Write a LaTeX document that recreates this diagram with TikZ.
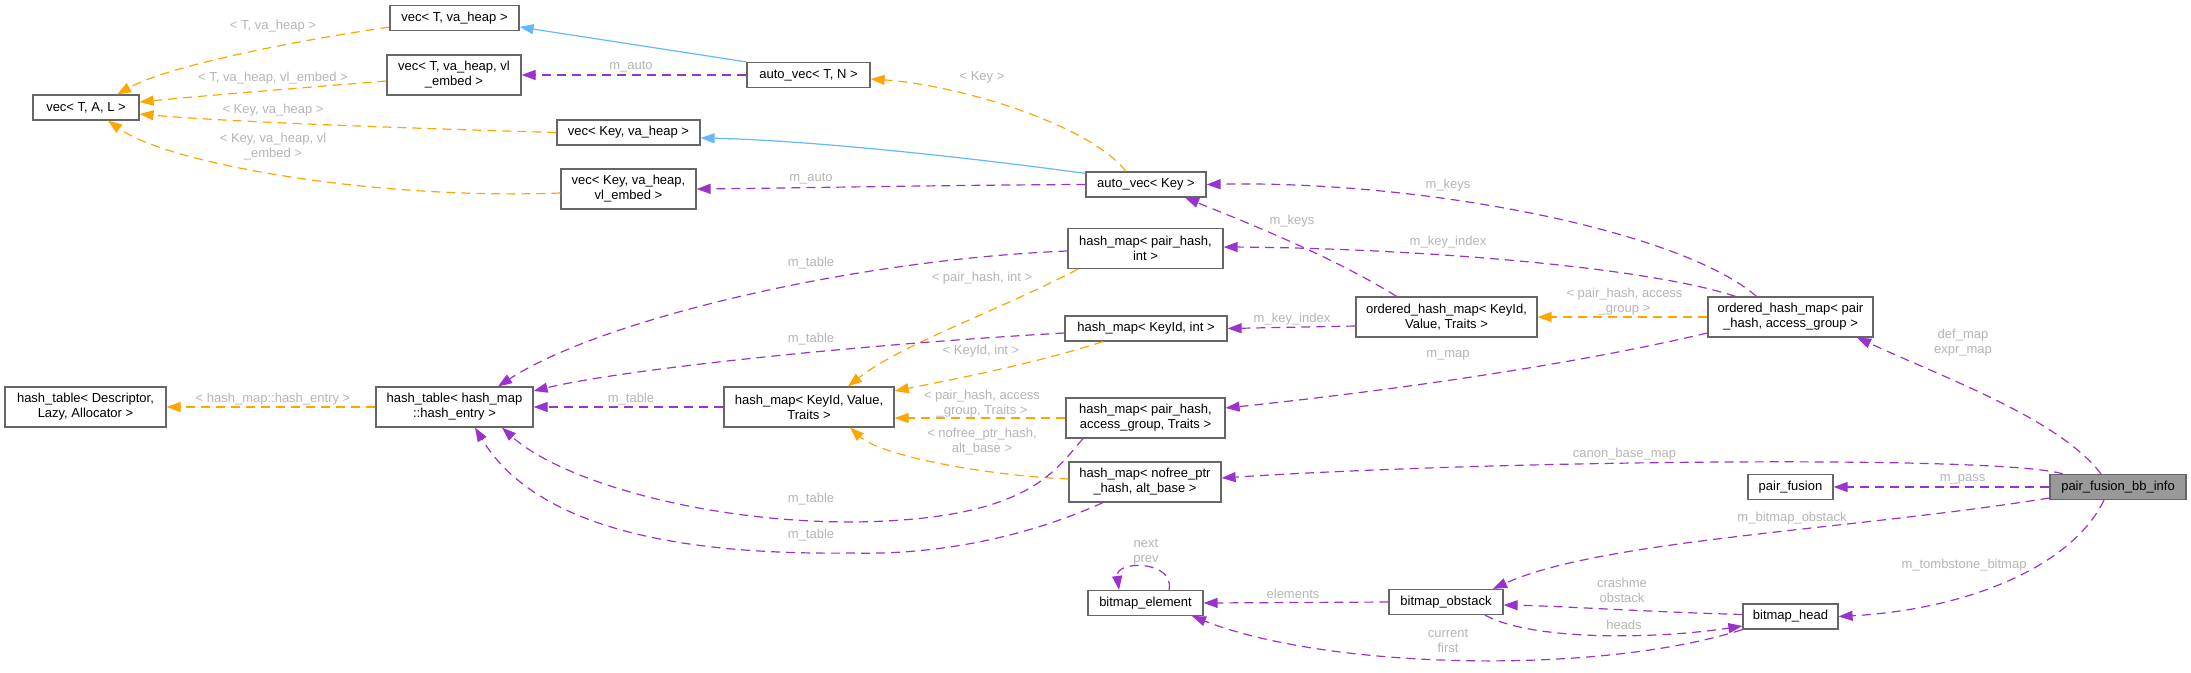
\documentclass[tikz,border=0pt]{standalone}
\usepackage{fontspec}
\setmainfont{Liberation Sans}
\usepackage{tikz}
\usetikzlibrary{arrows.meta}
\definecolor{boxgray}{HTML}{666666}
\definecolor{focusgray}{HTML}{999999}
\definecolor{lblgray}{HTML}{B4B4B4}
\definecolor{usecol}{HTML}{9A32CD}
\definecolor{tplcol}{HTML}{FFA500}
\definecolor{inhcol}{HTML}{63B8FF}
\tikzset{>={Triangle[length=14pt,width=10pt]}}
\tikzset{cls/.style={draw=boxgray,fill=white,line width=1.2pt,inner sep=0pt,align=center,minimum height=25pt,font=\fontsize{13}{15}\selectfont}}
\tikzset{cls2/.style={cls,minimum height=40pt}}
\tikzset{lbl/.style={text=lblgray,inner sep=0pt,align=center,font=\fontsize{13}{15}\selectfont}}
\tikzset{usage/.style={->,usecol,line width=1.2pt,dash pattern=on 9pt off 6pt}}
\tikzset{tmpl/.style={->,tplcol,line width=1.2pt,dash pattern=on 9pt off 6pt}}
\tikzset{inh/.style={->,inhcol,line width=1.2pt}}

\begin{document}
\begin{tikzpicture}[x=1pt,y=-1pt]
        \useasboundingbox (0,0) rectangle (2191,672);
        \node[cls, minimum width=106pt] (vecTAL) at (86,107.5) {vec< T, A, L >};
        \node[cls, minimum width=129pt] (vecTheap) at (454.5,18) {vec< T, va\_heap >};
        \node[cls2, minimum width=134pt] (vecTemb) at (454,75) {vec< T, va\_heap, vl\\\_embed >};
        \node[cls, minimum width=143pt] (vecKheap) at (628.5,132.5) {vec< Key, va\_heap >};
        \node[cls2, minimum width=135pt] (vecKemb) at (628.5,189) {vec< Key, va\_heap,\\vl\_embed >};
        \node[cls, minimum width=123pt] (autoTN) at (808.5,75) {auto\_vec< T, N >};
        \node[cls, minimum width=120pt] (autoKey) at (1146,184.5) {auto\_vec< Key >};
        \node[cls2, minimum width=155pt] (hmPHint) at (1145.5,248.5) {hash\_map< pair\_hash,\\int >};
        \node[cls, minimum width=162pt] (hmKint) at (1146,328.5) {hash\_map< KeyId, int >};
        \node[cls2, minimum width=170pt] (hmKVT) at (809,407) {hash\_map< KeyId, Value,\\Traits >};
        \node[cls2, minimum width=159pt] (hmPHag) at (1145.5,418) {hash\_map< pair\_hash,\\access\_group, Traits >};
        \node[cls2, minimum width=152pt] (hmNFab) at (1145,482) {hash\_map< nofree\_ptr\\\_hash, alt\_base >};
        \node[cls2, minimum width=161pt] (htDLA) at (85.5,407) {hash\_table< Descriptor,\\Lazy, Allocator >};
        \node[cls2, minimum width=157pt] (htHE) at (454.5,407) {hash\_table< hash\_map\\::hash\_entry >};
        \node[cls2, minimum width=181pt] (ohmKVT) at (1446.5,317) {ordered\_hash\_map< KeyId,\\Value, Traits >};
        \node[cls2, minimum width=165pt] (ohmPHag) at (1790.5,317) {ordered\_hash\_map< pair\\\_hash, access\_group >};
        \node[cls, minimum width=136pt, fill=focusgray] (pfbb) at (2118,487) {pair\_fusion\_bb\_info};
        \node[cls, minimum width=85pt] (pf) at (1790.5,487) {pair\_fusion};
        \node[cls, minimum width=115pt] (bmElem) at (1145.5,603) {bitmap\_element};
        \node[cls, minimum width=114pt] (bmObst) at (1446,602) {bitmap\_obstack};
        \node[cls, minimum width=95pt] (bmHead) at (1790.5,616.5) {bitmap\_head};

        \draw[tmpl] ([yshift=4pt]vecTheap.south west) .. controls (300,40) and (170,65) .. ([xshift=31pt]vecTAL.north)
          node[lbl] at (273,26) {< T, va\_heap >};
        \draw[tmpl] ([yshift=-6pt]vecTemb.west) .. controls (300,88) and (200,96) .. ([yshift=5.5pt]vecTAL.east)
          node[lbl] at (273,78) {< T, va\_heap, vl\_embed >};
        \draw[tmpl] (vecKheap.west) .. controls (400,128) and (230,122) .. ([yshift=-6.5pt]vecTAL.east)
          node[lbl] at (273,110) {< Key, va\_heap >};
        \draw[tmpl] ([yshift=-4pt]vecKemb.west) .. controls (380,200) and (170,165) .. ([xshift=22pt]vecTAL.south)
          node[lbl] at (273,147) {< Key, va\_heap, vl\\\_embed >};
        \draw[inh] (autoTN.north west) -- ([yshift=-9pt]vecTheap.east);
        \draw[usage] (autoTN.west) -- (vecTemb.east)
          node[lbl] at (631,67) {m\_auto};
        \draw[tmpl] ([xshift=-20pt]autoKey.north) .. controls (1090,125) and (960,85) .. ([yshift=-4pt]autoTN.east)
          node[lbl] at (982,77) {< Key >};
        \draw[inh] ([yshift=-2pt]autoKey.north west) .. controls (950,155) and (800,140) .. ([yshift=-5.5pt]vecKheap.east);
        \draw[usage] (autoKey.west) .. controls (950,185) and (800,188) .. (vecKemb.east)
          node[lbl] at (811,179) {m\_auto};
        \draw[usage] ([xshift=-34pt]ohmPHag.north) .. controls (1680,230) and (1420,180) .. (autoKey.east)
          node[lbl] at (1448,185) {m\_keys};
        \draw[usage] ([xshift=-50pt]ohmKVT.north) .. controls (1330,255) and (1240,220) .. ([xshift=39pt]autoKey.south)
          node[lbl] at (1292,221) {m\_keys};
        \draw[usage] ([xshift=-55pt]ohmPHag.north) .. controls (1640,265) and (1400,248) .. ([yshift=1.5pt]hmPHint.east)
          node[lbl] at (1448,242) {m\_key\_index};
        \draw[usage] ([yshift=-9pt]ohmKVT.west) -- (hmKint.east)
          node[lbl] at (1292,319) {m\_key\_index};
        \draw[tmpl] (ohmPHag.west) -- (ohmKVT.east)
          node[lbl] at (1624.5,302) {< pair\_hash, access\\\_group >};
        \draw[usage] ([yshift=-16pt]ohmPHag.west) .. controls (1550,370) and (1350,395) .. ([yshift=10pt]hmPHag.east)
          node[lbl] at (1448,355) {m\_map};
        \draw[usage] ([yshift=-2.5pt]hmPHint.west) .. controls (850,260) and (600,320) .. ([xshift=43.5pt]htHE.north)
          node[lbl] at (811,263) {m\_table};
        \draw[tmpl] ([xshift=-67.5pt]hmPHint.south) .. controls (1000,310) and (900,345) .. ([xshift=39pt]hmKVT.north)
          node[lbl] at (982,278) {< pair\_hash, int >};
        \draw[usage] ([yshift=-4.5pt]hmKint.west) .. controls (850,345) and (620,370) .. ([yshift=16pt]htHE.east)
          node[lbl] at (811,339) {m\_table};
        \draw[tmpl] ([xshift=-43pt]hmKint.south) .. controls (1030,365) and (950,380) .. ([yshift=16pt]hmKVT.east)
          node[lbl] at (981,351) {< KeyId, int >};
        \draw[usage] (hmKVT.west) -- (htHE.east)
          node[lbl] at (631,399) {m\_table};
        \draw[tmpl] (htHE.west) -- (htDLA.east)
          node[lbl] at (273,399) {< hash\_map::hash\_entry >};
        \draw[tmpl] (hmPHag.west) .. controls (1000,418) and (950,418) .. ([yshift=-11pt]hmKVT.east)
          node[lbl] at (982,404) {< pair\_hash, access\\\_group, Traits >};
        \draw[tmpl] ([yshift=3pt]hmNFab.west) .. controls (980,475) and (880,455) .. ([xshift=41pt]hmKVT.south)
          node[lbl] at (982,442) {< nofree\_ptr\_hash,\\alt\_base >};
        \draw[usage] ([xshift=-62.5pt]hmPHag.south) .. controls (1055,470) and (1030,520) .. (853,522)
          .. controls (700,522) and (560,480) .. ([xshift=47.5pt]htHE.south)
          node[lbl] at (811,499) {m\_table};
        \draw[usage] ([xshift=-42pt]hmNFab.south) .. controls (1020,540) and (930,555) .. (853,553)
          .. controls (700,555) and (540,535) .. ([xshift=20.5pt]htHE.south)
          node[lbl] at (811,535) {m\_table};
        \draw[usage] ([xshift=-17pt]pfbb.north) .. controls (2060,420) and (1950,380) .. ([xshift=66.5pt]ohmPHag.south)
          node[lbl] at (1963,343) {def\_map\\expr\_map};
        \draw[usage] ([xshift=-55pt]pfbb.north) .. controls (2000,455) and (1500,460) .. ([yshift=4pt]hmNFab.east)
          node[lbl] at (1624.5,454) {canon\_base\_map};
        \draw[usage] (pfbb.west) -- (pf.east)
          node[lbl] at (1962.5,479) {m\_pass};
        \draw[usage] ([yshift=-11pt]pfbb.west) .. controls (1850,530) and (1600,540) .. ([xshift=47pt]bmObst.north)
          node[lbl] at (1792,518) {m\_bitmap\_obstack};
        \draw[usage] ([xshift=-14pt]pfbb.south) .. controls (2070,570) and (1960,610) .. (bmHead.east)
          node[lbl] at (1964,565) {m\_tombstone\_bitmap};
        \draw[usage] (bmObst.west) -- (bmElem.east)
          node[lbl] at (1293,594) {elements};
        \draw[usage] ([xshift=23.5pt]bmElem.north) .. controls (1175,560) and (1115,560) .. ([xshift=-26.5pt]bmElem.north)
          node[lbl] at (1146,552) {next\\prev};
        \draw[usage] ([yshift=2pt]bmHead.west) .. controls (1650,612) and (1560,606) .. ([yshift=-3pt]bmObst.east)
          node[lbl] at (1622,590) {crashme\\obstack};
        \draw[usage] ([xshift=39pt]bmObst.south) .. controls (1530,640) and (1650,640) .. ([yshift=-9.5pt]bmHead.west)
          node[lbl] at (1624,625) {heads};
        \draw[usage] (bmHead.south west) .. controls (1600,675) and (1330,670) .. ([xshift=46.5pt]bmElem.south)
          node[lbl] at (1448,641) {current\\first};
\end{tikzpicture}
\end{document}
